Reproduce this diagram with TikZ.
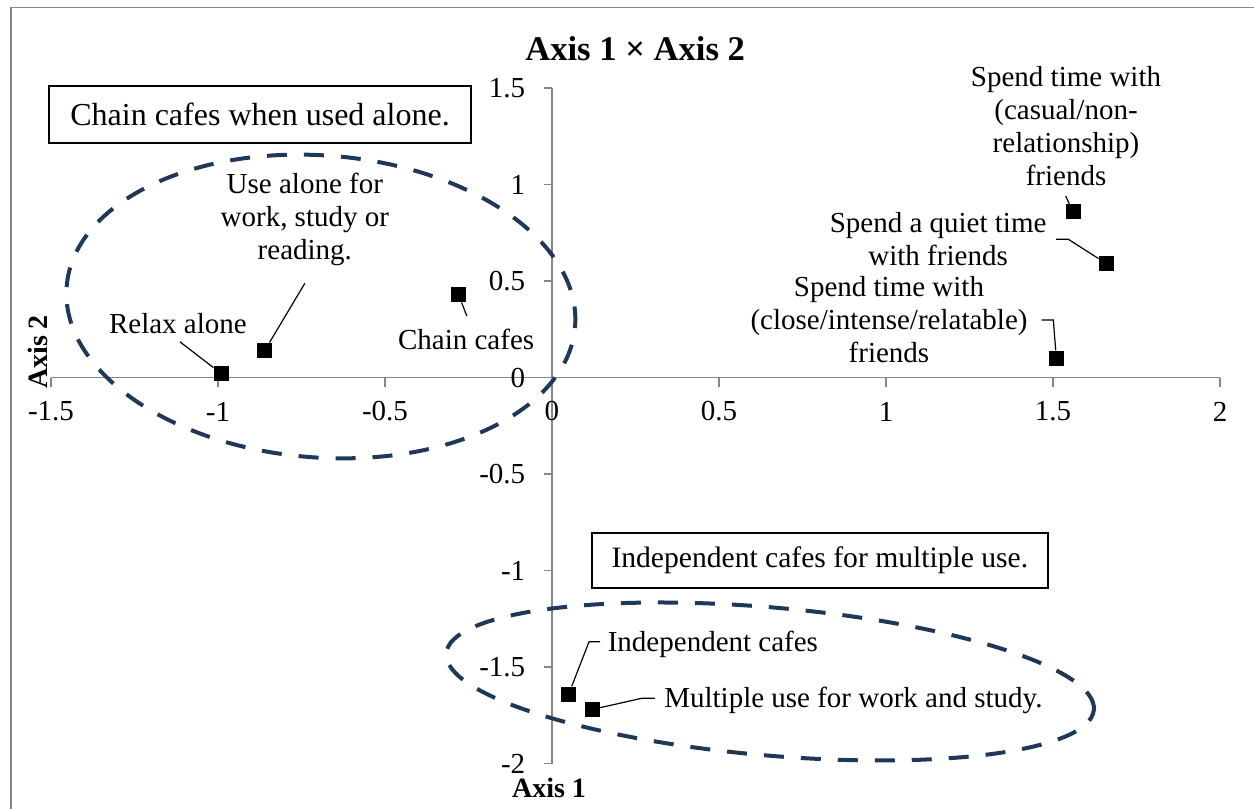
\documentclass[tikz,border=0pt]{standalone}
\usepackage{fontspec}
\setmainfont{Liberation Serif}
\usepackage{tikz}
\usetikzlibrary{shapes.geometric, positioning}
\definecolor{grpblue}{RGB}{31,56,88}
\definecolor{axgray}{RGB}{134,134,134}

\begin{document}
\begin{tikzpicture}[
  x=167pt, y=96.5pt,
  ax/.style={draw=axgray, line width=0.8pt},
  num/.style={font=\fontsize{14.5}{16.5}\selectfont, inner sep=0pt},
  lbl/.style={font=\fontsize{14.5}{16.5}\selectfont, align=center, inner sep=0pt},
  note/.style={rectangle, draw=black, line width=0.7pt, font=\fontsize{16}{18}\selectfont, inner sep=0pt},
  sq/.style={rectangle, fill=black, minimum size=7.5pt, inner sep=0pt},
  lead/.style={draw=black, line width=0.6pt},
  grp/.style={ellipse, draw=grpblue, line width=2pt, dash pattern=on 10pt off 8.5pt, inner sep=0pt},
  axt/.style={font=\fontsize{14}{16}\selectfont\bfseries, inner sep=0pt}
]
  \useasboundingbox (-1.6527,-2.2306) rectangle (2.1018,1.9560);

  % chart frame
  \draw[draw=axgray, line width=0.75pt] (-1.6198,-2.3) -- (-1.6198,1.918) -- (2.15,1.918);

  % axes
  \draw[ax] (-1.5,0) -- (2,0);
  \draw[ax] (0,-2) -- (0,1.5);
  \foreach \v [count=\k] in {-1.5,-1,-0.5,0,0.5,1,1.5,2} {
    \draw[ax] (\v,0) -- ++(0,-4.5pt);
    \node[num] (xt\k) at (\v,-0.176) {\v};
  }
  \foreach \v [count=\k] in {-2,-1.5,-1,-0.5,0,0.5,1,1.5} {
    \draw[ax] (0,\v) -- ++(-4pt,0);
    \node[num, anchor=east] (yt\k) at (-0.079,\v) {\v};
  }

  \node[font=\fontsize{17.3}{20}\selectfont\bfseries, anchor=base, inner sep=0pt] (title) at (0.249,1.640) {Axis 1 × Axis 2};
  \node[axt, rotate=90] (ytitle) at (-1.539,0.132) {Axis 2};
  \node[axt, anchor=base] (xtitle) at (-0.009,-2.174) {Axis 1};

  % groups
  \node[grp, minimum width=255pt, minimum height=151pt, rotate=-4.5] (alonegrp) at (-0.692,0.368) {};
  \node[grp, minimum width=325pt, minimum height=74pt, rotate=-5] (indepgrp) at (0.653,-1.575) {};

  \node[note, minimum width=211pt, minimum height=28.5pt] (alonebox) at (-0.874,1.363) {Chain cafes when used alone.};
  \node[note, font=\fontsize{14.8}{17}\selectfont, minimum width=228pt, minimum height=27.5pt] (indepbox) at (0.802,-0.948) {Independent cafes for multiple use.};

  % points
  \node[sq] (relax) at (-0.99,0.02) {};
  \node[sq] (alone) at (-0.86,0.14) {};
  \node[sq] (chain) at (-0.28,0.43) {};
  \node[sq] (casual) at (1.56,0.86) {};
  \node[sq] (quiet) at (1.66,0.59) {};
  \node[sq] (close) at (1.51,0.10) {};
  \node[sq] (indep) at (0.05,-1.64) {};
  \node[sq] (multi) at (0.12,-1.72) {};

  % labels
  \node[lbl] (relaxlbl) at (-1.120,0.282) {Relax alone};
  \node[lbl] (alonelbl) at (-0.740,0.819) {Use alone for\\work, study or\\reading.};
  \node[lbl] (chainlbl) at (-0.257,0.199) {Chain cafes};
  \node[lbl] (casuallbl) at (1.539,1.305) {Spend time with\\(casual/non-\\relationship)\\friends};
  \node[lbl] (quietlbl) at (1.156,0.719) {Spend a quiet time\\with friends};
  \node[lbl] (closelbl) at (1.009,0.298) {Spend time with\\(close/intense/relatable)\\friends};
  \node[lbl, anchor=west] (indeplbl) at (0.166,-1.385) {Independent cafes};
  \node[lbl, anchor=west] (multilbl) at (0.335,-1.675) {Multiple use for work and study.};

  % leader lines
  \coordinate (relaxa) at (-1.114,0.185);
  \coordinate (alonea) at (-0.740,0.488);
  \coordinate (chaina) at (-0.255,0.319);
  \coordinate (casuala) at (1.538,0.940);
  \coordinate (quieta) at (1.509,0.716);
  \coordinate (quietb) at (1.546,0.716);
  \coordinate (closea) at (1.466,0.298);
  \coordinate (closeb) at (1.501,0.298);
  \coordinate (indepa) at (0.144,-1.369);
  \coordinate (indepb) at (0.111,-1.369);
  \coordinate (multia) at (0.308,-1.662);
  \coordinate (multib) at (0.269,-1.662);

  \draw[lead] (relaxa) -- (relax);
  \draw[lead] (alonea) -- (alone);
  \draw[lead] (chaina) -- (chain);
  \draw[lead] (casuala) -- (casual);
  \draw[lead] (quieta) -- (quietb) -- (quiet);
  \draw[lead] (closea) -- (closeb) -- (close);
  \draw[lead] (indepa) -- (indepb) -- (indep);
  \draw[lead] (multia) -- (multib) -- (multi);
\end{tikzpicture}
\end{document}
